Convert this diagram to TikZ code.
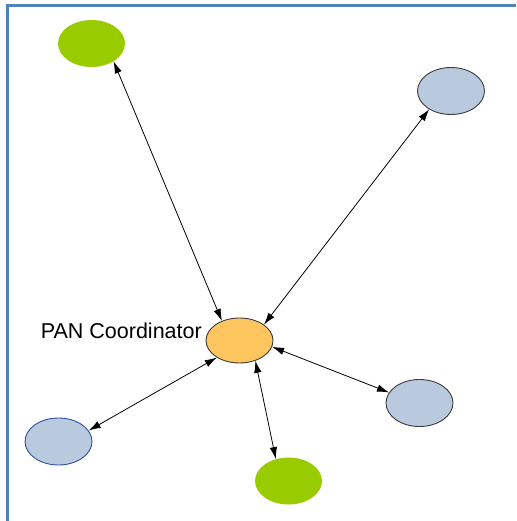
\documentclass[tikz,border=0pt]{standalone}
\usepackage{fontspec}
\setmainfont{Liberation Sans}
\usetikzlibrary{arrows.meta,shapes.geometric}
\definecolor{framecol}{HTML}{4F81BD}
\definecolor{leafgreen}{HTML}{99CC00}
\definecolor{devblue}{HTML}{B9CADF}
\definecolor{coordorange}{HTML}{FFC660}
\definecolor{rimgray}{HTML}{3A3A3A}
\definecolor{rimblue}{HTML}{2F4F9F}
\tikzset{
  dev/.style={ellipse, minimum width=67pt, minimum height=47pt, inner sep=0pt},
  greendev/.style={dev, fill=leafgreen},
  bluedev/.style={dev, fill=devblue, draw=rimgray, line width=0.9pt},
  coord/.style={dev, fill=coordorange, draw=rimgray, line width=0.9pt, minimum height=45pt},
  link/.style={line width=0.8pt, {Latex[length=12pt,width=7.5pt]}-{Latex[length=12pt,width=7.5pt]}}
}
\begin{document}
\begin{tikzpicture}[x=1pt,y=-1pt]
  \useasboundingbox (0,0) rectangle (516,521);
  % page frame: top and left edges only
  \draw[framecol, line width=3pt] (7,521) -- (7,6) -- (516,6);

  % devices
  \node[coord] (pan) at (239.5,340.5) {};
  \node[greendev] (g1) at (91.5,43.5) {};
  \node[bluedev] (b1) at (451,91) {};
  \node[bluedev] (b2) at (419.5,403) {};
  \node[bluedev, draw=rimblue] (b3) at (58.5,441.5) {};
  \node[greendev] (g2) at (288.5,481) {};

  \node[anchor=base east, font=\fontsize{21.5}{24}\selectfont, inner sep=0pt] (lbl) at (202,338) {PAN Coordinator};

  % links to the coordinator
  \draw[link] (g1.-39) -- (pan.132);
  \draw[link] (b1.-140) -- (pan.33);
  \draw[link] (pan.-11) -- (b2.161);
  \draw[link] (pan.-143) -- (b3.20);
  \draw[link] (pan.-52) -- (g2.120);
\end{tikzpicture}
\end{document}
